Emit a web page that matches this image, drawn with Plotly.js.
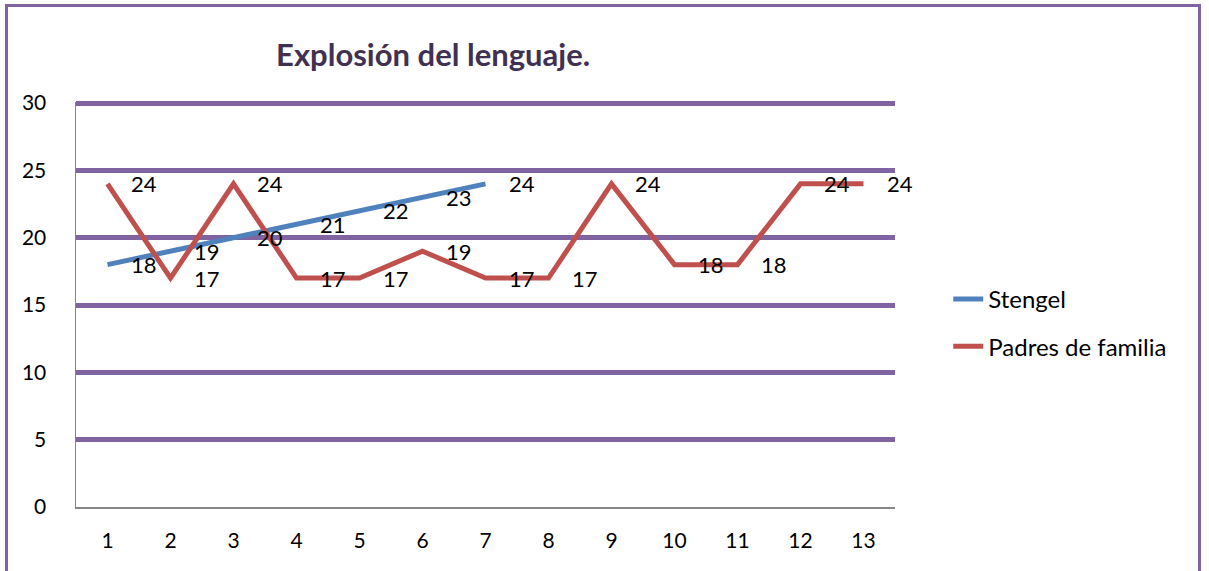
<!DOCTYPE html>
<html>
<head>
<meta charset="utf-8">
<script src="https://cdn.plot.ly/plotly-3.0.1.min.js"></script>
<style>
  html, body { margin: 0; padding: 0; background: #fff; }
  #frame { position: absolute; left: 5px; top: 4px; width: 1196px; height: 620px;
           border: 3px solid #8064A2; box-sizing: border-box; }
  #chart { position: absolute; left: 0; top: 0; width: 1209px; height: 571px; }
</style>
</head>
<body>
<div id="frame"></div>
<div id="chart"></div>
<script>
const categories = [1, 2, 3, 4, 5, 6, 7, 8, 9, 10, 11, 12, 13];
const stengelValues = [18, 19, 20, 21, 22, 23, 24];
const padresValues = [24, 17, 24, 17, 17, 19, 17, 17, 24, 18, 18, 24, 24];
const yTicks = [0, 5, 10, 15, 20, 25, 30];
const seriesNames = ['Stengel', 'Padres de familia'];
const chartTitle = 'Explosión del lenguaje.';

const FONT = 'Lato, "Open Sans", sans-serif';
const stengelX = categories.slice(0, stengelValues.length);

const traces = [
  { x: stengelX, y: stengelValues, name: seriesNames[0], mode: 'lines', type: 'scatter',
    line: { color: '#4F81BD', width: 5 }, legendgroup: 'a', hoverinfo: 'x+y' },
  { x: categories, y: padresValues, name: seriesNames[1], mode: 'lines', type: 'scatter',
    line: { color: '#C0504D', width: 5 }, legendgroup: 'b', hoverinfo: 'x+y' }
];

const annotations = [];
function addLabels(xs, ys) {
  xs.forEach((x, i) => {
    annotations.push({ x: x, y: ys[i], xref: 'x', yref: 'y', text: String(ys[i]),
      showarrow: false, xshift: 36, font: { family: FONT, size: 22, color: '#000' } });
  });
}
addLabels(stengelX, stengelValues);
addLabels(categories, padresValues);

const layout = {
  width: 1209, height: 571,
  margin: { l: 76, r: 314, t: 102, b: 64, autoexpand: false },
  paper_bgcolor: 'rgba(0,0,0,0)', plot_bgcolor: 'rgba(0,0,0,0)',
  font: { family: FONT, size: 21, color: '#000' },
  title: { text: chartTitle, x: 0.436, xref: 'paper', xanchor: 'center',
           y: 1 - 55 / 571, yref: 'container', yanchor: 'middle',
           font: { family: FONT, size: 31, color: '#403152', weight: 'bold' } },
  xaxis: { range: [0.5, 13.5], tickvals: categories, ticktext: categories.map(String),
           showgrid: false, zeroline: false, showline: true, linecolor: '#868686', linewidth: 1.5,
           ticks: 'outside', ticklen: 14, tickcolor: 'rgba(0,0,0,0)', fixedrange: true },
  yaxis: { range: [0, 30.08], tickvals: yTicks, ticktext: yTicks.map(String),
           showgrid: true, gridcolor: '#8064A2', gridwidth: 5, zeroline: false,
           showline: true, linecolor: '#868686', linewidth: 1.5,
           ticks: 'outside', ticklen: 24, tickcolor: 'rgba(0,0,0,0)', fixedrange: true },
  showlegend: true,
  legend: { x: 1.065, xref: 'paper', y: 0.568, yref: 'paper', yanchor: 'top',
            xanchor: 'left', traceorder: 'grouped', tracegroupgap: 13,
            font: { family: FONT, size: 24, color: '#000' }, bgcolor: 'rgba(0,0,0,0)' },
  annotations: annotations
};

Plotly.newPlot('chart', traces, layout, { displayModeBar: false, staticPlot: true });
</script>
</body>
</html>
